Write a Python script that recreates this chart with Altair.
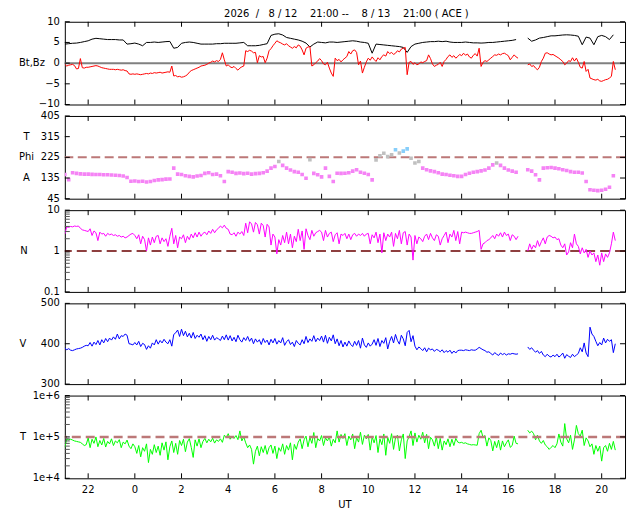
import altair as alt
import numpy as np
import pandas as pd

FONT = "DejaVu Sans"
W = 562
HEIGHTS = [83, 83, 82, 81, 83]
GAP = 11.5

TITLE = "2026  /   8 / 12    21:00 --    8 / 13    21:00 ( ACE )".replace(" ", "\u00a0")

# start of window: 2026-08-12 21:00 UT ; sampling steps in minutes
STEP_FAST = 5
STEP_SLOW = 10

# hours after 21:00 UT where the 2-hourly ticks sit (22, 0, 2, ..., 20 UT)
x_tick_hours = [1, 3, 5, 7, 9, 11, 13, 15, 17, 19, 21, 23]
x_tick_labels = ["22", "0", "2", "4", "6", "8", "10", "12", "14", "16", "18", "20"]

# Bt (nT), 10-min
bt = [
    4.6, 4.7, 4.8, 4.85, 5.0, 5.2,
    5.4, 5.8, 6.0, 5.9, 5.8, 5.7,
    5.7, 5.7, 5.6, 5.6, 4.6, 4.7,
    4.85, 4.6, 4.2, 5.0, 5.0, 5.1,
    5.0, 5.1, 5.2, 5.25, 3.6, 3.8,
    4.8, 5.0, 5.1, 5.0, 4.8, 4.6,
    4.6, 4.6, 4.6, 4.7, 4.7, 4.8,
    4.8, 4.8, 4.8, 4.9, 5.0, 4.2,
    4.2, 4.2, 4.3, 4.5, 4.7, 6.7,
    7.0, 7.1, 6.8, 6.2, 6.0, 5.8,
    5.6, 5.3, 4.85, 3.9, 4.6, 5.1,
    5.0, 4.9, 5.1, 5.1, 5.0, 5.1,
    5.2, 5.3, 5.4, 5.3, 5.1, 5.0,
    4.8, 2.4, 4.6, 4.5, 4.4, 4.3,
    4.2, 4.1, 4.0, 3.8, 2.6, 4.0,
    4.6, 4.8, 5.0, 5.1, 5.2, 5.2,
    5.3, 5.2, 5.3, 5.1, 5.0, 5.0,
    5.0, 5.1, 5.0, 4.9, 4.9, 4.85,
    4.9, 5.0, 5.0, 5.1, 5.2, 5.3,
    5.4, 5.5, 5.7, None, None, 6.05,
    5.3, 5.6, 6.05, 6.2, 6.4, 6.6,
    6.6, 6.7, 6.8, 6.85, 6.8, 6.7,
    6.5, 4.45, 6.3, 6.05, 4.45, 6.4,
    6.7, 6.4, 5.7, 6.85,
]

# Bz (nT), 5-min
bz = [
    -0.3, -0.7, -0.5, -0.4, -0.3, -0.6, -1.4, -1.3, 1.1, -1.1, -1.2, -1.0,
    -1.0, -0.9, -0.8, -0.7, -0.6, -0.7, -0.9, -1.1, -1.2, -1.3, -1.4, -1.5,
    -1.5, -1.5, -1.6, -1.5, -1.6, -1.7, -1.6, -1.8, -1.9, -2.6, -2.7, -2.6,
    -2.7, -2.6, -2.7, -2.8, -2.7, -2.6, -2.5, -2.6, -2.4, -2.5, -2.3, -2.4,
    -2.3, -2.2, -2.4, -2.3, -2.2, -2.1, -2.2, -0.7, -3.1, -3.0, -3.3, -3.2,
    -3.4, -3.3, -3.1, -2.8, -2.2, -1.8, -1.6, -1.4, -1.2, -1.0, -0.7, -0.6,
    -0.5, -0.3, 0.0, 0.2, 0.5, 0.3, 0.6, 0.4, 0.9, 2.5, 0.8, -0.7,
    -0.4, -0.9, -1.1, -0.8, -1.3, -1.7, -1.2, -0.9, -0.7, 3.0, 2.8, 3.1,
    2.9, 2.5, 2.6, 0.1, 1.8, 1.5, 1.6, 0.1, 1.2, 3.0, 3.5, 4.2,
    4.8, 5.4, 5.1, 4.9, 4.6, 4.4, 4.7, 4.2, 3.9, 3.6, 4.0, 3.7,
    4.4, 4.1, 3.2, 2.0, 3.6, 3.9, 4.0, -0.7, -0.4, 0.1, 0.5, 1.1,
    0.6, -0.2, -0.4, 0.2, -1.2, -2.4, -3.2, 1.2, 0.6, 0.9, 0.3, 0.8,
    1.2, 1.6, 2.8, 2.2, 3.0, 3.2, 2.6, -0.4, 0.5, -2.4, -1.0, 0.3,
    1.2, 0.7, 1.5, 0.9, 0.4, 1.3, 0.8, 1.6, 2.0, 1.7, 2.8, 2.3,
    2.6, 2.1, 2.4, 3.0, 2.7, 3.4, 3.6, 3.8, -2.8, 0.2, 0.4, -0.3,
    0.1, -0.4, -0.2, 0.3, 0.1, 0.4, 0.6, 2.0, 1.1, -0.2, -0.8, -0.5,
    -0.3, 0.2, -0.8, 0.4, 0.9, 1.6, 2.0, 1.4, 1.8, 1.2, 1.6, 2.1,
    1.8, 2.4, 1.9, 2.2, 1.5, 1.2, 1.9, 2.3, 1.7, 3.6, -0.8, 0.2,
    0.6, 0.4, 0.8, 1.2, 1.6, 2.0, 1.9, 2.2, 2.0, 2.3, 2.4, 2.1,
    1.8, 0.8, 1.4, 2.0, 1.5, 1.2, None, None, None, None, -0.4, -0.2,
    -0.8, -0.6, -1.2, -1.6, -1.0, 0.4, 1.2, 2.4, 2.5, 2.2, 2.0, 2.1,
    1.8, 1.5, 1.2, 0.8, 0.4, -0.4, 0.0, 0.6, 0.4, 1.3, 0.5, 1.2,
    0.2, -1.0, -1.2, 0.4, -2.0, -1.5, -3.6, -3.8, -4.0, -4.1, -3.9, -4.3,
    -4.4, -4.2, -4.0, -3.9, -3.6, -3.2, 0.4, -1.6,
]

# Phi angle (deg), 10-min
phi = [
    150, 128, 158, 155, 153, 152,
    152, 151, 150, 150, 149, 149,
    148, 147, 146, 144, 137, 121,
    122, 120, 121, 118, 120, 124,
    127, 128, 130, 131, 178, 152,
    150, 145, 142, 140, 144, 146,
    155, 158, 150, 152, 145, 120,
    163, 160, 155, 157, 154, 156,
    152, 154, 155, 158, 165, 178,
    185, 207, 190, 178, 170, 163,
    160, 150, 134, 215, 155, 149,
    140, 178, 142, 120, 156, 155,
    156, 158, 165, 171, 160, 156,
    150, 127, 214, 232, 243, 228,
    236, 258, 244, 252, 262, 221,
    200, 207, 178, 171, 166, 163,
    158, 152, 150, 147, 145, 142,
    142, 150, 156, 160, 163, 166,
    170, 178, 192, 200, 190, 178,
    170, 165, 160, None, None, 171,
    165, 149, 127, 178, 180, 181,
    178, 175, 171, 168, 163, 160,
    160, 157, 120, 84, 82, 80,
    82, 86, 95, 145,
]

# proton density (cm^-3), 5-min
dens = [
    2.6, 3.9, 3.8, 4.0, 3.9, 4.1, 4.0, 4.1, 3.6, 3.3, 3.2, 3.1,
    3.0, 3.5, 2.4, 3.1, 2.8, 1.8, 2.9, 2.6, 2.7, 2.3, 2.7, 2.5,
    2.6, 2.4, 2.5, 2.3, 2.4, 2.2, 2.3, 2.1, 2.2, 2.4, 2.6, 2.7,
    2.4, 2.0, 2.5, 1.5, 2.3, 1.9, 1.0, 2.1, 1.4, 2.2, 1.6, 2.3,
    2.4, 1.5, 2.1, 1.7, 2.0, 1.3, 2.3, 3.6, 1.5, 2.4, 1.2, 2.2,
    2.0, 2.5, 1.6, 2.3, 1.9, 2.6, 2.1, 2.8, 2.2, 2.9, 2.3, 2.7,
    2.9, 2.5, 3.1, 2.7, 3.4, 2.8, 3.3, 3.6, 4.1, 3.7, 4.3, 3.6,
    3.4, 2.6, 2.5, 2.8, 2.3, 2.9, 2.6, 3.0, 2.4, 4.8, 2.8, 5.2,
    4.6, 2.9, 5.0, 4.4, 2.6, 4.8, 4.2, 2.2, 4.5, 3.9, 1.4, 2.6,
    2.2, 0.85, 1.9, 1.4, 2.4, 1.6, 2.9, 1.5, 2.6, 1.2, 2.3, 1.7,
    3.4, 1.8, 3.1, 1.1, 3.5, 2.4, 1.9, 3.2, 2.3, 2.8, 3.0, 3.2,
    2.9, 1.8, 3.2, 2.2, 2.7, 2.9, 1.7, 2.5, 2.8, 1.5, 2.6, 2.4,
    2.7, 2.0, 2.6, 1.9, 2.5, 2.7, 2.3, 2.6, 2.4, 2.7, 2.3, 2.6,
    2.7, 1.5, 2.5, 2.1, 2.9, 1.6, 2.6, 0.9, 2.8, 1.8, 2.6, 2.2,
    2.9, 1.3, 2.7, 2.0, 3.2, 1.5, 2.8, 3.0, 1.4, 2.6, 2.2, 0.6,
    2.4, 1.5, 2.2, 2.0, 1.7, 2.3, 2.6, 1.9, 2.7, 2.1, 1.8, 2.5,
    2.3, 1.4, 2.0, 2.4, 2.9, 1.6, 2.6, 2.2, 3.2, 1.8, 3.0, 1.5,
    2.9, 2.8, 2.9, 2.8, 2.7, 2.7, 2.8, 2.9, 3.0, 3.2, 1.1, 1.5,
    1.6, 1.8, 1.9, 2.1, 2.4, 2.0, 2.6, 2.3, 2.8, 2.2, 2.9, 2.4,
    2.6, 1.8, 2.5, 2.3, 1.9, 2.3, None, None, None, None, 1.0, 1.5,
    1.1, 1.4, 1.2, 1.8, 1.3, 1.7, 2.1, 1.5, 2.2, 2.4, 2.3, 2.1,
    2.2, 1.9, 2.0, 1.4, 1.2, 1.5, 0.8, 0.95, 1.6, 1.2, 2.6, 1.5,
    1.3, 0.85, 1.2, 0.9, 1.1, 0.7, 1.0, 0.8, 0.9, 0.55, 0.8, 0.45,
    0.9, 0.55, 0.85, 0.7, 0.9, 1.5, 2.9, 1.8,
]

# bulk speed (km/s), 5-min
speed = [
    390, 385, 388, 384, 383, 385, 387, 388, 389, 391, 394, 396,
    395, 403, 394, 404, 398, 408, 397, 410, 402, 413, 405, 414,
    409, 417, 411, 424, 412, 420, 418, 424, 421, 400, 399, 397,
    403, 397, 406, 393, 401, 398, 386, 395, 389, 402, 397, 410,
    399, 408, 402, 411, 404, 400, 410, 394, 423, 427, 434, 418,
    436, 420, 431, 417, 426, 414, 428, 413, 421, 416, 424, 410,
    420, 406, 418, 410, 421, 409, 415, 412, 408, 419, 410, 422,
    409, 420, 407, 416, 405, 421, 410, 404, 415, 408, 418, 406,
    414, 400, 412, 404, 410, 398, 413, 403, 409, 397, 411, 402,
    413, 399, 408, 402, 415, 396, 405, 410, 398, 404, 393, 408,
    401, 397, 410, 400, 418, 403, 412, 406, 420, 405, 414, 408,
    419, 404, 421, 401, 416, 407, 422, 400, 412, 395, 408, 392,
    404, 394, 407, 398, 393, 406, 396, 408, 389, 414, 397, 391,
    402, 394, 399, 410, 396, 413, 393, 408, 401, 415, 387, 406,
    418, 402, 423, 408, 399, 421, 412, 395, 428, 433, 405, 420,
    394, 385, 392, 388, 383, 390, 380, 389, 385, 387, 381, 386,
    384, 380, 385, 378, 383, 379, 384, 376, 382, 377, 383, 384,
    384, 383, 385, 384, 383, 385, 384, 384, 387, 391, 388, 385,
    383, 379, 380, 376, 372, 378, 374, 371, 377, 373, 376, 372,
    375, 374, 376, 375, 374, 375, None, None, None, None, 392, 386,
    390, 384, 379, 383, 376, 381, 372, 368, 374, 369, 367, 372,
    368, 374, 367, 371, 377, 364, 373, 369, 366, 374, 368, 372,
    376, 390, 380, 402, 377, 368, 441, 424, 418, 406, 395, 403,
    397, 414, 402, 411, 406, 410, 378, 400,
]

# ion temperature (thousands of K), 5-min
temp_k = [
    55, 90, 85, 88, 84, 80, 78, 76, 74, 68, 62, 65,
    95, 55, 88, 70, 100, 58, 82, 64, 92, 57, 78, 68,
    90, 62, 80, 72, 86, 55, 75, 68, 84, 60, 52, 68,
    58, 40, 62, 33, 55, 45, 68, 24, 50, 38, 65, 42,
    60, 36, 72, 48, 76, 28, 58, 80, 42, 70, 38, 82,
    62, 88, 44, 75, 91, 56, 32, 85, 60, 90, 55, 78,
    92, 72, 88, 76, 93, 71, 85, 78, 90, 74, 110, 96,
    120, 88, 105, 92, 108, 86, 140, 80, 100, 72, 55, 64,
    50, 22, 45, 60, 35, 58, 42, 62, 38, 55, 64, 40,
    60, 30, 55, 45, 68, 38, 62, 48, 72, 28, 66, 50,
    75, 90, 52, 85, 105, 58, 98, 70, 128, 55, 92, 80,
    108, 62, 95, 80, 100, 60, 88, 72, 140, 75, 115, 92,
    120, 62, 105, 85, 118, 52, 96, 75, 130, 66, 110, 90,
    115, 48, 100, 72, 108, 42, 90, 65, 118, 36, 98, 70,
    120, 50, 95, 110, 46, 85, 118, 30, 80, 102, 140, 62,
    125, 75, 110, 88, 130, 72, 116, 52, 98, 85, 60, 100,
    52, 92, 48, 80, 65, 90, 58, 88, 62, 92, 75, 72,
    74, 70, 72, 68, 66, 64, 65, 64, 63, 120, 145, 98,
    108, 60, 95, 82, 46, 78, 55, 84, 48, 80, 58, 72,
    85, 56, 62, 105, 70, 68, None, None, None, None, 145, 125,
    138, 120, 85, 110, 80, 70, 82, 64, 58, 50, 56, 62,
    55, 68, 118, 75, 60, 210, 90, 72, 110, 50, 85, 190,
    120, 105, 146, 62, 95, 80, 58, 68, 38, 62, 45, 60,
    26, 55, 62, 45, 70, 50, 78, 48,
]


def frame(values, step, factor=1.0):
    v = pd.Series(values, dtype=float) * factor
    df = pd.DataFrame({"h": np.arange(len(v)) * step / 60.0, "v": v})
    df["seg"] = df["v"].isna().cumsum()
    return df.dropna().reset_index(drop=True)


df_bt = frame(bt, STEP_SLOW)
df_bz = frame(bz, STEP_FAST)
df_phi = frame(phi, STEP_SLOW)
df_phi["c"] = np.where(df_phi["v"] >= 248, "b",
                       np.where((df_phi["v"] >= 200) | (df_phi["v"] < 70), "g", "m"))
df_n = frame(dens, STEP_FAST)
df_v = frame(speed, STEP_FAST)
df_t = frame(temp_k, STEP_FAST, 1000.0)

XS = alt.Scale(domain=[0, 24], nice=False, zero=False)


def xenc():
    return alt.X("h:Q", scale=XS, axis=None)


def txt(align="center", baseline="middle"):
    return dict(font=FONT, fontSize=10, color="black", align=align, baseline=baseline)


def tick_layers(h, ys, yvals, ylabels, minor=None):
    xt = pd.DataFrame({"h": x_tick_hours})
    yt = pd.DataFrame({"t": yvals, "label": ylabels})
    out = [
        alt.Chart(xt).mark_rule(color="black", strokeWidth=1).encode(
            x=xenc(), y=alt.value(0), y2=alt.value(5)),
        alt.Chart(xt).mark_rule(color="black", strokeWidth=1).encode(
            x=xenc(), y=alt.value(h - 5), y2=alt.value(h)),
        alt.Chart(yt).mark_rule(color="black", strokeWidth=1).encode(
            y=alt.Y("t:Q", scale=ys, axis=None), x=alt.value(0), x2=alt.value(5)),
        alt.Chart(yt).mark_rule(color="black", strokeWidth=1).encode(
            y=alt.Y("t:Q", scale=ys, axis=None), x=alt.value(W - 5), x2=alt.value(W)),
        alt.Chart(yt).mark_text(**txt(align="right")).encode(
            y=alt.Y("t:Q", scale=ys, axis=None), x=alt.value(-5), text="label:N"),
    ]
    if minor:
        mt = pd.DataFrame({"t": minor})
        out.append(alt.Chart(mt).mark_rule(color="#555555", strokeWidth=1).encode(
            y=alt.Y("t:Q", scale=ys, axis=None), x=alt.value(0), x2=alt.value(5)))
    return out


def labels(items, ys, xpos, align="center"):
    df = pd.DataFrame({"label": [a for a, _ in items], "y": [b for _, b in items]})
    return alt.Chart(df).mark_text(**txt(align=align)).encode(
        x=alt.value(xpos), y=alt.Y("y:Q", scale=ys, axis=None), text="label:N")


def line(df, ys, color):
    return alt.Chart(df).mark_line(color=color, strokeWidth=1, clip=True).encode(
        x=xenc(), y=alt.Y("v:Q", scale=ys, axis=None), detail="seg:N")


def hrule(val, ys, color, width, dash=None):
    kw = dict(color=color, strokeWidth=width)
    if dash:
        kw["strokeDash"] = dash
    return alt.Chart(pd.DataFrame({"y": [val]})).mark_rule(**kw).encode(
        y=alt.Y("y:Q", scale=ys, axis=None))


MINUS = "\u2212"

# ---- panel 1 : Bt, Bz
ys1 = alt.Scale(domain=[-10, 10], nice=False, zero=False)
title_layer = alt.Chart(pd.DataFrame({"t": [TITLE]})).mark_text(
    **txt(baseline="alphabetic")).encode(
    x=alt.value(282.5), y=alt.value(-4.3), text="t:N")
p1 = alt.layer(
    hrule(0, ys1, "#808080", 2),
    line(df_bt, ys1, "black"),
    line(df_bz, ys1, "#ff0000"),
    *tick_layers(HEIGHTS[0], ys1, [-10, -5, 0, 5, 10],
                 [MINUS + "10", MINUS + "5", "0", "5", "10"]),
    labels([("Bt,Bz", 0)], ys1, -20, align="right"),
    title_layer,
).properties(width=W, height=HEIGHTS[0])

# ---- panel 2 : Phi
ys2 = alt.Scale(domain=[45, 405], nice=False, zero=False)
phi_pts = alt.Chart(df_phi).mark_square(size=13, opacity=1, clip=True).encode(
    x=xenc(), y=alt.Y("v:Q", scale=ys2, axis=None),
    color=alt.Color("c:N", scale=alt.Scale(domain=["m", "g", "b"],
                                           range=["#f583f5", "#c0c0c0", "#87cefa"]),
                    legend=None))
p2 = alt.layer(
    hrule(225, ys2, "#bc7878", 2, dash=[9, 4.5]),
    phi_pts,
    *tick_layers(HEIGHTS[1], ys2, [45, 135, 225, 315, 405],
                 ["45", "135", "225", "315", "405"]),
    labels([("T", 315), ("Phi", 225), ("A", 135)], ys2, -38.5),
).properties(width=W, height=HEIGHTS[1])

# ---- panel 3 : density
ys3 = alt.Scale(type="log", domain=[0.1, 10], nice=False)
n_minor = [0.2, 0.3, 0.4, 0.5, 0.6, 0.7, 0.8, 0.9, 2, 3, 4, 5, 6, 7, 8, 9]
p3 = alt.layer(
    hrule(1, ys3, "#6a0000", 1.4, dash=[10, 5]),
    line(df_n, ys3, "#ff00ff"),
    *tick_layers(HEIGHTS[2], ys3, [0.1, 1, 10], ["0.1", "1", "10"], minor=n_minor),
    labels([("N", 1)], ys3, -41),
).properties(width=W, height=HEIGHTS[2])

# ---- panel 4 : speed
ys4 = alt.Scale(domain=[300, 500], nice=False, zero=False)
p4 = alt.layer(
    line(df_v, ys4, "#0000ff"),
    *tick_layers(HEIGHTS[3], ys4, [300, 400, 500], ["300", "400", "500"]),
    labels([("V", 400)], ys4, -42),
).properties(width=W, height=HEIGHTS[3])

# ---- panel 5 : temperature
ys5 = alt.Scale(type="log", domain=[1e4, 1e6], nice=False)
t_minor = [k * 1e4 for k in range(2, 10)] + [k * 1e5 for k in range(2, 10)]
xl = pd.DataFrame({"h": x_tick_hours, "label": x_tick_labels})
x_labels = alt.Chart(xl).mark_text(**txt(baseline="top")).encode(
    x=xenc(), y=alt.value(HEIGHTS[4] + 7), text="label:N")
ut_label = alt.Chart(pd.DataFrame({"t": ["UT"]})).mark_text(**txt(baseline="top")).encode(
    x=alt.value(W / 2), y=alt.value(HEIGHTS[4] + 22), text="t:N")
p5 = alt.layer(
    line(df_t, ys5, "#00ff00"),
    hrule(1e5, ys5, "#bc7878", 2.5, dash=[9, 5]),
    *tick_layers(HEIGHTS[4], ys5, [1e4, 1e5, 1e6], ["1e+4", "1e+5", "1e+6"], minor=t_minor),
    labels([("T", 1e5)], ys5, -42),
    x_labels,
    ut_label,
).properties(width=W, height=HEIGHTS[4])

chart = alt.vconcat(p1, p2, p3, p4, p5, spacing=GAP, bounds="flush").properties(
    padding={"left": 10, "top": 0, "right": 5, "bottom": 2}
).configure_view(stroke="black", strokeWidth=1)

chart.save("out.html", embed_options={"renderer": "svg", "actions": False})
